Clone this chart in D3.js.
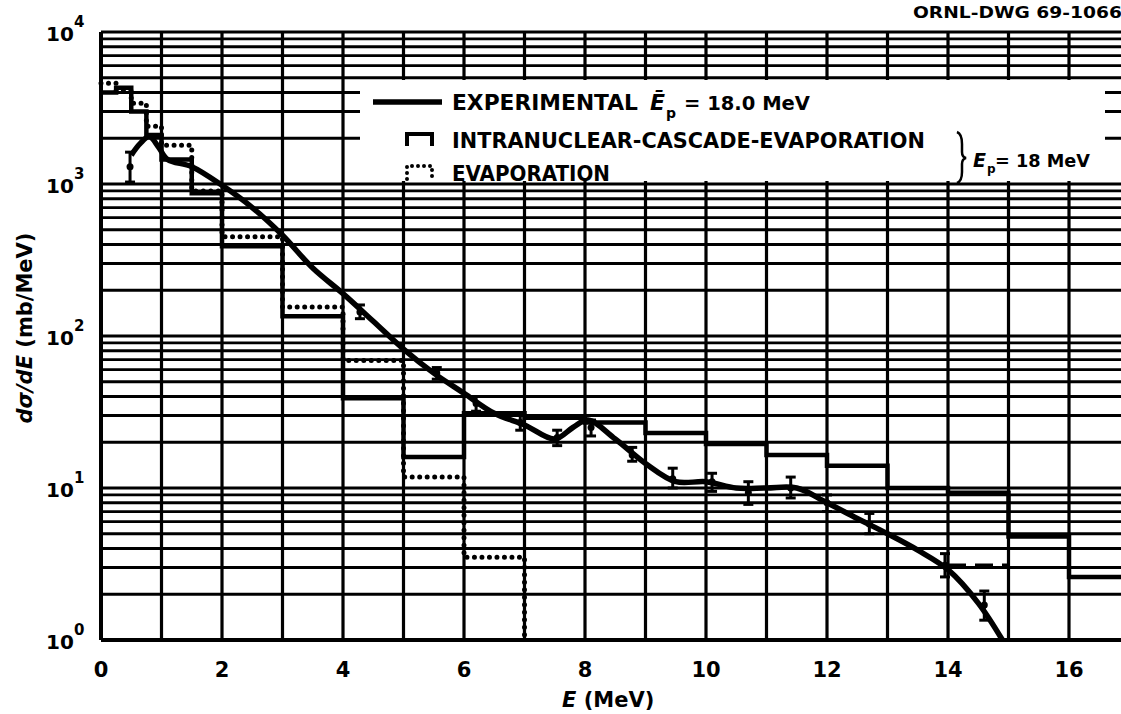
<!DOCTYPE html>
<html lang="en">
<head>
<meta charset="utf-8">
<title>Neutron spectrum, Ep = 18 MeV</title>
<script src="https://cdn.jsdelivr.net/npm/d3@7"></script>
<style>
  body { margin: 0; background: #fff; }
  text { font-family: "DejaVu Sans", sans-serif; font-weight: bold; fill: #000; }
</style>
</head>
<body>
<div id="chart"></div>
<script>
// tick labels
var xTicks = [0, 2, 4, 6, 8, 10, 12, 14, 16];
var yDecades = [0, 1, 2, 3, 4];

// intranuclear-cascade-evaporation histogram (bin edges, values in mb/MeV)
var cascEdges = [0, 0.25, 0.5, 0.75, 1, 1.5, 2, 3, 4, 5, 6, 7, 8, 9, 10, 11, 12, 13, 14, 15, 16, 17];
var cascVals  = [4000, 4300, 3000, 2100, 1450, 870, 390, 135, 39, 16, 31, 29, 27, 23, 19.5, 16.5, 14, 10, 9.3, 4.8, 2.6];

// evaporation histogram
var evapEdges = [0, 0.25, 0.5, 0.75, 1, 1.5, 2, 3, 4, 5, 6, 7];
var evapVals  = [4600, 4100, 3400, 2400, 1800, 900, 450, 155, 69, 11.8, 3.5];
var evapTailEdges = [14, 15];
var evapTailVals  = [3.1];

// experimental curve
var expCurveE = [0.5, 0.65, 0.8, 0.95, 1.1, 1.5, 2.0, 2.5, 3.0, 3.5, 4.0, 4.5, 5.0, 5.5, 6.0, 6.5, 7.0, 7.5, 7.8, 8.05, 8.5, 9.0, 9.5, 10.0, 10.5, 11.0, 11.5, 12.0, 12.5, 13.0, 13.5, 14.0, 14.5, 14.9];
var expCurveV = [1550, 1850, 2050, 1750, 1450, 1300, 980, 700, 460, 280, 190, 125, 82, 57, 42, 31, 26, 21, 25, 28, 21, 14.5, 11, 11, 10, 10, 10, 8, 6.3, 5, 3.9, 2.9, 1.75, 1.0];

// experimental points with error bars
var expE  = [0.48, 4.28, 5.55, 6.2, 6.93, 7.54, 8.1, 8.78, 9.45, 10.1, 10.7, 11.4, 12.0, 12.7, 13.95, 14.6];
var expV  = [1300, 144, 57, 36, 27, 21.5, 25, 16.5, 11.5, 11, 9.3, 10, 8, 5.8, 3.1, 1.7];
var expLo = [1030, 130, 52, 32, 24, 19, 22, 15, 10, 9.5, 7.8, 8.6, 7, 5, 2.6, 1.35];
var expHi = [1620, 160, 62, 40, 30, 24, 28, 18.5, 13.5, 12.5, 11, 11.8, 9, 6.8, 3.7, 2.1];

var W = 1121, H = 714;

var svg = d3.select("#chart").append("svg")
    .attr("width", W)
    .attr("height", H);

var x = d3.scaleLinear().domain([0, 17]).range([101, 1129.5]);
var y = d3.scaleLog().domain([1, 1e4]).range([640, 32]);

// log grid
var hLines = [];
for (var d = 0; d < 4; d++) {
  for (var m = 1; m < 10; m++) hLines.push(m * Math.pow(10, d));
}
hLines.push(1e4);

var grid = svg.append("g");
grid.selectAll(".h").data(hLines).enter().append("line")
    .attr("x1", x(0)).attr("x2", W)
    .attr("y1", function(v) { return y(v); })
    .attr("y2", function(v) { return y(v); })
    .attr("stroke", "#000").attr("stroke-width", 2.8);

grid.selectAll(".v").data(d3.range(0, 18)).enter().append("line")
    .attr("x1", function(e) { return x(e); })
    .attr("x2", function(e) { return x(e); })
    .attr("y1", y(1e4)).attr("y2", y(1))
    .attr("stroke", "#000").attr("stroke-width", 3.2);

// frame
svg.append("line").attr("x1", x(0)).attr("x2", W).attr("y1", y(1)).attr("y2", y(1))
    .attr("stroke", "#000").attr("stroke-width", 4);
svg.append("line").attr("x1", x(0)).attr("x2", x(0)).attr("y1", y(1e4)).attr("y2", y(1))
    .attr("stroke", "#000").attr("stroke-width", 4);

// legend box covers grid
svg.append("rect")
    .attr("x", 360).attr("y", 80)
    .attr("width", 745).attr("height", 101)
    .attr("fill", "#fff");

// histograms
var step = d3.line()
    .x(function(p) { return x(p[0]); })
    .y(function(p) { return y(p[1]); })
    .curve(d3.curveStepAfter);

function histPoints(edges, vals) {
  return edges.map(function(e, i) { return [e, vals[Math.min(i, vals.length - 1)]]; });
}

svg.append("path")
    .attr("d", step(histPoints(cascEdges, cascVals)))
    .attr("fill", "none").attr("stroke", "#000").attr("stroke-width", 4.5);

var evapPts = histPoints(evapEdges, evapVals);
evapPts.push([7, 1]);
svg.append("path")
    .attr("d", step(evapPts))
    .attr("fill", "none").attr("stroke", "#000").attr("stroke-width", 5)
    .attr("stroke-linecap", "round").attr("stroke-dasharray", "0,7.5");

svg.append("path")
    .attr("d", step(histPoints(evapTailEdges, evapTailVals)))
    .attr("fill", "none").attr("stroke", "#000").attr("stroke-width", 3.5)
    .attr("stroke-dasharray", "18,9");

// experimental curve
var curve = d3.line()
    .x(function(i) { return x(expCurveE[i]); })
    .y(function(i) { return y(expCurveV[i]); })
    .curve(d3.curveCatmullRom.alpha(0.5));

svg.append("path")
    .attr("d", curve(d3.range(expCurveE.length)))
    .attr("fill", "none").attr("stroke", "#000").attr("stroke-width", 5.5)
    .attr("stroke-linejoin", "round");

// error bars
var bars = svg.append("g").selectAll("g").data(d3.range(expE.length)).enter().append("g");
bars.append("line")
    .attr("x1", function(i) { return x(expE[i]); })
    .attr("x2", function(i) { return x(expE[i]); })
    .attr("y1", function(i) { return y(expLo[i]); })
    .attr("y2", function(i) { return y(expHi[i]); })
    .attr("stroke", "#000").attr("stroke-width", 3);
bars.append("line")
    .attr("x1", function(i) { return x(expE[i]) - 5; })
    .attr("x2", function(i) { return x(expE[i]) + 5; })
    .attr("y1", function(i) { return y(expLo[i]); })
    .attr("y2", function(i) { return y(expLo[i]); })
    .attr("stroke", "#000").attr("stroke-width", 3);
bars.append("line")
    .attr("x1", function(i) { return x(expE[i]) - 5; })
    .attr("x2", function(i) { return x(expE[i]) + 5; })
    .attr("y1", function(i) { return y(expHi[i]); })
    .attr("y2", function(i) { return y(expHi[i]); })
    .attr("stroke", "#000").attr("stroke-width", 3);
bars.append("circle")
    .attr("cx", function(i) { return x(expE[i]); })
    .attr("cy", function(i) { return y(expV[i]); })
    .attr("r", 3.5);

// x tick labels
svg.selectAll(".xt").data(xTicks).enter().append("text")
    .attr("x", function(e) { return x(e); })
    .attr("y", 677)
    .attr("text-anchor", "middle")
    .style("font-size", "21px")
    .text(function(e) { return e; });

// y tick labels (10^n)
var yl = svg.selectAll(".yt").data(yDecades).enter().append("g");
yl.append("text")
    .attr("x", 46).attr("y", function(n) { return y(Math.pow(10, n)) + 9; })
    .style("font-size", "20px")
    .text("10");
yl.append("text")
    .attr("x", 74).attr("y", function(n) { return y(Math.pow(10, n)) - 5; })
    .style("font-size", "15px")
    .text(function(n) { return n; });

// axis titles
svg.append("text")
    .attr("transform", "translate(32,328) rotate(-90)")
    .attr("text-anchor", "middle")
    .style("font-size", "21px")
    .html('<tspan font-style="italic">dσ/dE</tspan> (mb/MeV)');

svg.append("text")
    .attr("x", 562).attr("y", 707)
    .style("font-size", "21px")
    .html('<tspan font-style="italic">E</tspan>  (MeV)');

// drawing number
svg.append("text")
    .attr("x", 913).attr("y", 18)
    .attr("textLength", 222).attr("lengthAdjust", "spacingAndGlyphs")
    .style("font-size", "15px")
    .text("ORNL-DWG 69-10666");

// legend
svg.append("line").attr("x1", 373).attr("x2", 442).attr("y1", 102).attr("y2", 102)
    .attr("stroke", "#000").attr("stroke-width", 5.5);
svg.append("path").attr("d", "M407,146V134H432V146")
    .attr("fill", "none").attr("stroke", "#000").attr("stroke-width", 4);
svg.append("path").attr("d", "M407,179V166H432V179")
    .attr("fill", "none").attr("stroke", "#000").attr("stroke-width", 4)
    .attr("stroke-linecap", "round").attr("stroke-dasharray", "0,6");

svg.append("text").attr("x", 452).attr("y", 110)
    .attr("textLength", 186).attr("lengthAdjust", "spacingAndGlyphs")
    .style("font-size", "22px").text("EXPERIMENTAL");
svg.append("text").attr("x", 650).attr("y", 110)
    .style("font-size", "22px").style("font-style", "italic").text("Ē");
svg.append("text").attr("x", 666).attr("y", 118)
    .style("font-size", "14px").text("p");
svg.append("text").attr("x", 684).attr("y", 110)
    .attr("textLength", 126).attr("lengthAdjust", "spacingAndGlyphs")
    .style("font-size", "20px").text("= 18.0 MeV");

svg.append("text").attr("x", 452).attr("y", 148)
    .attr("textLength", 473).attr("lengthAdjust", "spacingAndGlyphs")
    .style("font-size", "22px").text("INTRANUCLEAR-CASCADE-EVAPORATION");
svg.append("text").attr("x", 452).attr("y", 181)
    .attr("textLength", 158).attr("lengthAdjust", "spacingAndGlyphs")
    .style("font-size", "22px").text("EVAPORATION");

// brace and beam energy
svg.append("path")
    .attr("d", "M957,132Q962,134 962,144L962,152Q962,157 966,158Q962,159 962,164L962,172Q962,181 957,183")
    .attr("fill", "none").attr("stroke", "#000").attr("stroke-width", 2.5);
svg.append("text").attr("x", 973).attr("y", 167)
    .style("font-size", "19px").style("font-style", "italic").text("E");
svg.append("text").attr("x", 987).attr("y", 173)
    .style("font-size", "12px").text("p");
svg.append("text").attr("x", 995).attr("y", 167)
    .attr("textLength", 95).attr("lengthAdjust", "spacingAndGlyphs")
    .style("font-size", "17px").text("= 18 MeV");
</script>
</body>
</html>
